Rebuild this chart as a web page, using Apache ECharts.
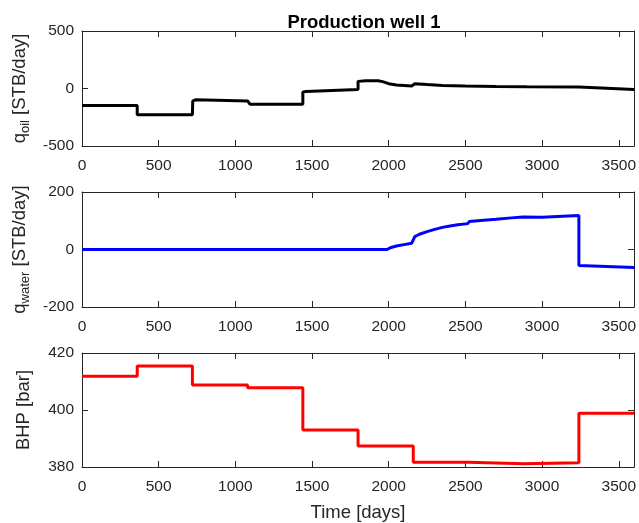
<!DOCTYPE html>
<html>
<head>
<meta charset="utf-8">
<style>
html,body{margin:0;padding:0;background:#fff;}
#chart{width:639px;height:523px;}
</style>
<script src="https://cdn.jsdelivr.net/npm/echarts@6/dist/echarts.min.js"></script>
</head>
<body>
<div id="chart"></div>
<script>
// ---- data ----
const titleText = 'Production well 1';
const xTicks = [0, 500, 1000, 1500, 2000, 2500, 3000, 3500];

const oilT = [0, 360, 360, 720, 722, 740, 1080, 1085, 1095, 1440, 1440, 1460, 1800, 1800, 1850, 1930, 1960, 2000, 2050, 2150, 2160, 2170, 2250, 2350, 2500, 2700, 2900, 3240, 3240, 3600];
const oilQ = [-148, -148, -228, -228, -110, -98, -108, -110, -137, -137, -30, -27, -8, 62, 68, 68, 60, 42, 30, 21, 21, 42, 34, 27, 22, 18, 15, 12, -4, -8];

const watT = [0, 1990, 2010, 2050, 2100, 2150, 2160, 2170, 2200, 2250, 2300, 2350, 2400, 2450, 2515, 2525, 2600, 2700, 2800, 2875, 2885, 3000, 3100, 3240, 3240, 3600];
const watQ = [0, 0, 6, 12, 17, 22, 22, 45, 53, 62, 70, 77, 82, 86, 90, 97, 101, 105, 110, 113, 109, 112, 115, 118, -56, -63];

const bhpT = [0, 360, 720, 1080, 1440, 1800, 2160, 2520, 2880, 3240, 3600];
const bhpV = [411.8, 415.4, 408.8, 407.8, 393.0, 387.4, 381.7, 381.1, 381.5, 398.9, 398.9];

const yRanges = [
  {min: -500, max: 500, interval: 500},
  {min: -200, max: 200, interval: 200},
  {min: 380, max: 420, interval: 20}
];
const yNames = [
  '{a|q}{b|oil}{a| [STB/day]}',
  '{a|q}{b|water}{a| [STB/day]}',
  '{a|BHP [bar]}'
];

// ---- chart ----
const txt = '#262626';
const font = 'Liberation Sans, Arial, Helvetica, sans-serif';
const gridTops = [31, 192, 353];
const gridH = 115;

const grids = gridTops.map(t => ({left: 82, right: 3, top: t, height: gridH}));
const xAxes = [], yAxes = [];
const plain = v => String(v);
gridTops.forEach((t, i) => {
  const common = {
    type: 'value', gridIndex: i, min: 0, max: 3600, interval: 500,
    axisLine: {show: true, onZero: false, lineStyle: {color: txt, width: 1}},
    axisTick: {show: true, inside: true, length: 6, lineStyle: {color: txt, width: 1}},
    splitLine: {show: false}
  };
  xAxes.push(Object.assign({}, common, {
    position: 'bottom',
    axisLabel: {show: true, color: txt, fontSize: 15.5, fontFamily: font, margin: 12,
      showMaxLabel: false, formatter: plain},
    name: i === 2 ? 'Time [days]' : '',
    nameLocation: 'middle', nameGap: 36,
    nameTextStyle: {color: txt, fontSize: 18.5, fontFamily: font}
  }));
  xAxes.push(Object.assign({}, common, {position: 'top', axisLabel: {show: false}}));
  const yc = {
    type: 'value', gridIndex: i,
    min: yRanges[i].min, max: yRanges[i].max, interval: yRanges[i].interval,
    axisLine: {show: true, onZero: false, lineStyle: {color: txt, width: 1}},
    axisTick: {show: true, inside: true, length: 6, lineStyle: {color: txt, width: 1}},
    splitLine: {show: false}
  };
  yAxes.push(Object.assign({}, yc, {
    position: 'left',
    axisLabel: {show: true, color: txt, fontSize: 15.5, fontFamily: font, margin: 8, formatter: plain},
    name: yNames[i], nameLocation: 'middle', nameRotate: 90, nameGap: 46,
    nameTextStyle: {
      color: txt, fontFamily: font,
      rich: {
        a: {fontSize: 18.5, fontFamily: font, color: txt, lineHeight: 24, verticalAlign: 'middle'},
        b: {fontSize: 13, fontFamily: font, color: txt, lineHeight: 13, verticalAlign: 'bottom'}
      }
    }
  }));
  yAxes.push(Object.assign({}, yc, {position: 'right', axisLabel: {show: false}}));
});

const zip = (a, b) => a.map((v, k) => [v, b[k]]);

const chart = echarts.init(document.getElementById('chart'), null, {renderer: 'canvas'});
chart.setOption({
  animation: false,
  backgroundColor: '#ffffff',
  title: {
    text: titleText, left: 359, textAlign: 'center', top: 8,
    textStyle: {color: '#000', fontSize: 18.5, fontWeight: 'bold', fontFamily: font}
  },
  grid: grids,
  xAxis: xAxes,
  yAxis: yAxes,
  series: [
    {type: 'line', xAxisIndex: 0, yAxisIndex: 0, data: zip(oilT, oilQ), showSymbol: false,
      lineStyle: {color: '#000000', width: 3}, itemStyle: {color: '#000000'}},
    {type: 'line', xAxisIndex: 2, yAxisIndex: 2, data: zip(watT, watQ), showSymbol: false,
      lineStyle: {color: '#0000ff', width: 3}, itemStyle: {color: '#0000ff'}},
    {type: 'line', xAxisIndex: 4, yAxisIndex: 4, data: zip(bhpT, bhpV), showSymbol: false, step: 'end',
      lineStyle: {color: '#ff0000', width: 3}, itemStyle: {color: '#ff0000'}}
  ]
});
</script>
</body>
</html>
